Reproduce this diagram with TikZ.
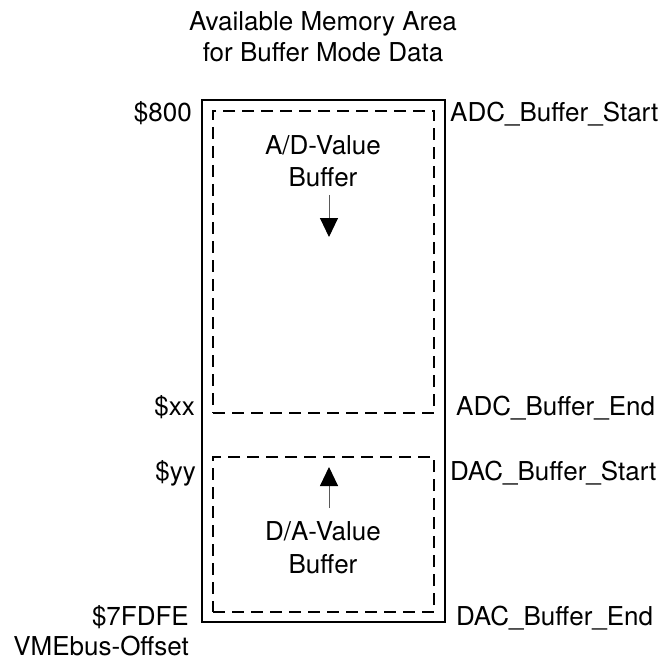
\documentclass[tikz,border=0pt]{standalone}
\usepackage{fontspec}
\setmainfont{TeX Gyre Heros}
\usetikzlibrary{arrows.meta}
\begin{document}
\begin{tikzpicture}[x=1pt,y=-1pt,
  lbl/.style={font=\fontsize{26}{31}\selectfont, inner sep=0pt},
  lblL/.style={lbl, anchor=base east},
  lblR/.style={lbl, anchor=base west},
  memory/.style={draw, line width=2.4pt, inner sep=0pt},
  region/.style={draw, line width=2pt, dash pattern=on 12pt off 7pt, inner sep=0pt},
  growth/.style={line width=1pt, draw=black!65,
    -{Triangle[length=19pt,width=18pt,color=black]}}]
\useasboundingbox (0,0) rectangle (667,668);

% title
\node[lbl, align=center] (title) at (323,37) {Available Memory Area\\for Buffer Mode Data};

% memory area with the two buffer regions
\node[memory, minimum width=243pt, minimum height=522pt] (mem) at (323.5,361) {};
\node[region, minimum width=221pt, minimum height=302pt] (adc) at (323.5,262) {};
\node[region, minimum width=221pt, minimum height=155pt] (dac) at (323.5,534.5) {};

% buffer captions
\node[lbl, anchor=base] (adc1) at (323,155) {A/D-Value};
\node[lbl, anchor=base] (adc2) at (323,187) {Buffer};
\node[lbl, anchor=base] (dac1) at (323,540) {D/A-Value};
\node[lbl, anchor=base] (dac2) at (323,573) {Buffer};

% fill directions
\coordinate (adcA) at (329,195);
\coordinate (adcB) at (329,237);
\coordinate (dacA) at (329,508);
\coordinate (dacB) at (329,467);
\draw[growth] (adcA) -- (adcB);
\draw[growth] (dacA) -- (dacB);

% addresses
\node[lblL] (a800) at (192,122) {\$800};
\node[lblL] (axx) at (195,415) {\$xx};
\node[lblL] (ayy) at (196,480) {\$yy};
\node[lblL] (aend) at (189,625) {\$7FDFE};
\node[lblL] (voff) at (189,655) {VMEbus-Offset};

% symbolic names
\node[lblR] (n1) at (450,122) {ADC\_Buffer\_Start};
\node[lblR] (n2) at (456,415) {ADC\_Buffer\_End};
\node[lblR] (n3) at (450,480) {DAC\_Buffer\_Start};
\node[lblR] (n4) at (456,625) {DAC\_Buffer\_End};
\end{tikzpicture}
\end{document}
